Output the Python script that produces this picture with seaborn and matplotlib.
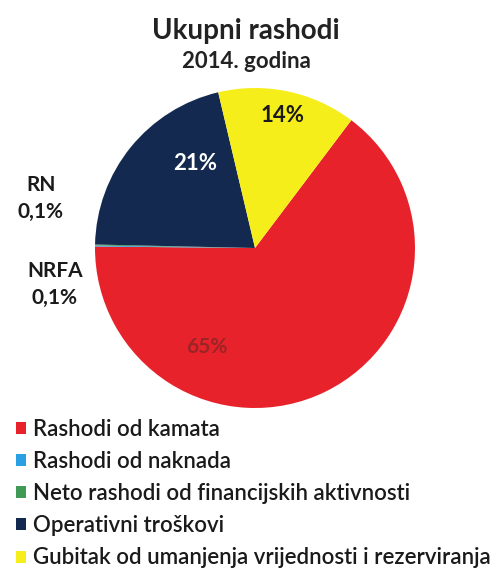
import matplotlib
matplotlib.use('Agg')
import matplotlib.pyplot as plt
import seaborn as sns

categories = [
    "Rashodi od kamata",
    "Rashodi od naknada",
    "Neto rashodi od financijskih aktivnosti",
    "Operativni troškovi",
    "Gubitak od umanjenja vrijednosti i rezerviranja",
]
short_names = ["", "RN", "NRFA", "", ""]
shares = [65, 0.1, 0.1, 21, 14]
colors = ["#e8222b", "#2a9fe3", "#3f9a55", "#13294f", "#f6ee1b"]

sns.set_theme(style="white")
plt.rcParams['font.family'] = ['Lato', 'DejaVu Sans']

fig = plt.figure(figsize=(4.92, 5.72), dpi=100)
W, H = 492, 572
cx, cy, r = 255, 248, 160
ax = fig.add_axes([(cx - r) / W, 1 - (cy + r) / H, 2 * r / W, 2 * r / H])

wedges, _ = ax.pie(shares, colors=colors, startangle=53, counterclock=False,
                   wedgeprops=dict(linewidth=0))
ax.set_xlim(-1, 1)
ax.set_ylim(-1, 1)
ax.set_aspect('equal')


def fmt(v):
    return (f"{v:.1f}".replace(".", ",") if v < 1 else f"{v:.0f}") + "%"


# label positions (data coords inside pie axes)
label_pos = [(-0.30, -0.62), (-1.34, 0.31), (-1.25, -0.23), (-0.375, 0.53), (0.175, 0.83)]
label_col = ["#9a2426", "#1a1a1a", "#1a1a1a", "white", "#1a1a1a"]
label_size = [15, 15, 15, 16, 16]
for i, v in enumerate(shares):
    txt = fmt(v) if not short_names[i] else f"{short_names[i]}\n{fmt(v)}"
    ax.text(label_pos[i][0], label_pos[i][1], txt, ha='center', va='center',
            fontsize=label_size[i], fontweight='bold', color=label_col[i],
            linespacing=1.45, clip_on=False)

fig.text(0.5, 1 - 31 / H, "Ukupni rashodi", ha='center', va='center',
         fontsize=20, fontweight='bold', color='#222222')
fig.text(0.5, 1 - 62 / H, "2014. godina", ha='center', va='center',
         fontsize=16, fontweight='bold', color='#222222')

fig.legend(wedges, categories, loc='upper left', bbox_to_anchor=(0.033, 1 - 419 / H),
           frameon=False, prop=dict(size=16, weight='semibold'),
           handlelength=0.45, handleheight=0.45, handletextpad=0.3,
           labelspacing=0.5, borderaxespad=0, borderpad=0)
for t in fig.legends[0].get_texts():
    t.set_color('#1a1a1a')

fig.savefig("out.png", dpi=100)
